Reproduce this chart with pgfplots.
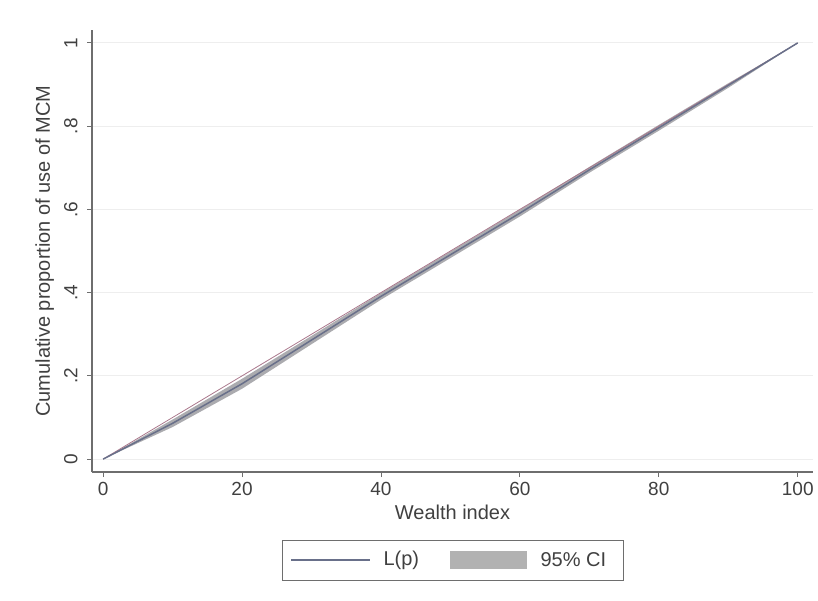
\documentclass[border=0pt]{standalone}
\usepackage{pgfplots}
\pgfplotsset{compat=1.18}
\usepackage{fontspec}
\setmainfont{Liberation Sans}
\usepgfplotslibrary{fillbetween}
\definecolor{lpline}{RGB}{105,112,138}
\definecolor{ciband}{RGB}{150,150,155}
\definecolor{eqline}{RGB}{170,120,140}
\definecolor{gridc}{RGB}{238,238,238}
\definecolor{axc}{RGB}{110,110,110}
\begin{document}
\begin{tikzpicture}
\begin{axis}[
  at={(0pt,0pt)}, anchor=south west,
  scale only axis, width=721pt, height=442pt,
  xmin=-1.6, xmax=102.2, ymin=-0.031, ymax=1.031,
  axis x line*=bottom, axis y line*=left,
  axis line style={axc, line width=1.2pt},
  xtick={0,20,40,60,80,100},
  ytick={0,0.2,0.4,0.6,0.8,1},
  yticklabels={0,.2,.4,.6,.8,1},
  tick style={axc, line width=0.8pt},
  major tick length=5pt,
  tick align=outside,
  ticklabel style={font=\fontsize{19}{19}\selectfont, text=black!75},
  yticklabel style={rotate=90, anchor=south},
  yticklabel shift=6pt,
  xticklabel shift=2pt,
  /pgf/number format/assume math mode=true,
  ymajorgrids, grid style={gridc, line width=0.8pt},
  xlabel={Wealth index}, ylabel={Cumulative proportion of use of MCM},
  label style={font=\fontsize{20}{20}\selectfont, text=black!75},
  xlabel style={yshift=-2pt},
  ylabel style={yshift=3pt},
]
\addplot[name path=upper, draw=none, forget plot] coordinates {
(0,0) (10,0.095) (20,0.193) (30,0.296) (40,0.399) (50,0.499) (60,0.599) (70,0.702) (80,0.803) (90,0.903) (100,1)};
\addplot[name path=lower, draw=none, forget plot] coordinates {
(0,0) (10,0.077) (20,0.169) (30,0.276) (40,0.383) (50,0.483) (60,0.583) (70,0.688) (80,0.789) (90,0.892) (100,1)};
\addplot[ciband, fill opacity=0.8, draw=none, forget plot] fill between[of=upper and lower];
\addplot[eqline, line width=0.8pt, forget plot] coordinates {(0,0) (100,1)};
\addplot[lpline, line width=1.5pt, forget plot] coordinates {
(0,0) (10,0.086) (20,0.181) (30,0.286) (40,0.391) (50,0.491) (60,0.591) (70,0.695) (80,0.796) (90,0.898) (100,1)};
\end{axis}
% legend
\begin{scope}[shift={(-92pt,-128pt)}, x=1pt, y=1pt]
\draw[axc, line width=1pt, fill=white] (282,20) rectangle (623,60);
\draw[lpline, line width=1.6pt] (291,40) -- (370,40);
\node[anchor=west, font=\fontsize{20}{20}\selectfont, text=black!75] at (380,40) {L(p)};
\fill[black!30] (450,31) rectangle (527,49);
\node[anchor=west, font=\fontsize{20}{20}\selectfont, text=black!75] at (537,40) {95\% CI};
\end{scope}
\pgfresetboundingbox
\path[use as bounding box] (-92pt,-128pt) rectangle (726pt,472pt);
\end{tikzpicture}
\end{document}
